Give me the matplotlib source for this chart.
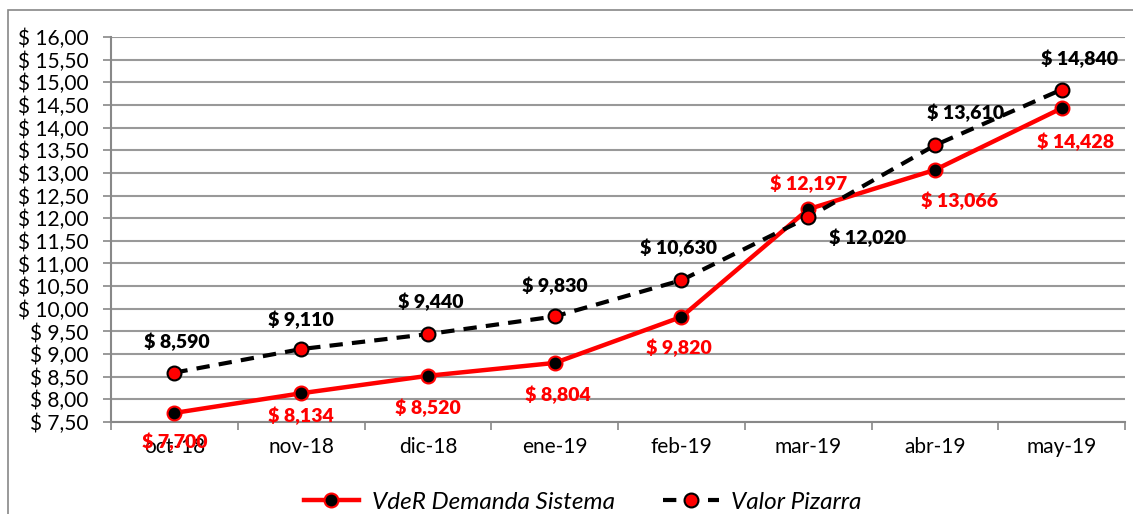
import matplotlib.pyplot as plt
from matplotlib.patches import Rectangle

plt.rcParams['font.family'] = ['Lato', 'DejaVu Sans']

months = ['oct-18', 'nov-18', 'dic-18', 'ene-19', 'feb-19', 'mar-19', 'abr-19', 'may-19']
vder = [7.700, 8.134, 8.520, 8.804, 9.820, 12.197, 13.066, 14.428]
pizarra = [8.590, 9.110, 9.440, 9.830, 10.630, 12.020, 13.610, 14.840]
vder_labels = ['$ 7,700', '$ 8,134', '$ 8,520', '$ 8,804', '$ 9,820', '$ 12,197', '$ 13,066', '$ 14,428']
pizarra_labels = ['$ 8,590', '$ 9,110', '$ 9,440', '$ 9,830', '$ 10,630', '$ 12,020', '$ 13,610', '$ 14,840']
yticks = [7.5 + 0.5 * i for i in range(18)]

# label offsets in points
vder_off = [(0, -21), (0, -16), (0, -23), (2, -23), (-2, -22), (0, 18), (18, -22), (10, -24)]
piz_off = [(2, 22), (0, 21), (2, 23), (0, 22), (-2, 23), (43, -15), (22, 23), (13, 22)]

fig = plt.figure(figsize=(11.33, 5.14), dpi=100)
ax = fig.add_axes([0.098, 0.179, 0.895, 0.749])
fig.patches.append(Rectangle((0.007, -0.01), 1.1, 0.99, transform=fig.transFigure,
                             fill=False, edgecolor='#888888', linewidth=1.2))

x = list(range(len(months)))
ax.plot(x, vder, color='red', lw=3.2, marker='o', ms=10, mfc='black', mec='red', mew=1.5,
        label='VdeR Demanda Sistema', zorder=3)
ax.plot(x, pizarra, color='black', lw=3, ls=(0, (3.2, 2.2)), marker='o', ms=10, mfc='red',
        mec='black', mew=1.5, label='Valor Pizarra', zorder=4)

for i in x:
    ax.annotate(vder_labels[i], (i, vder[i]), xytext=vder_off[i], textcoords='offset points',
                ha='center', va='center', color='red', fontsize=14, fontweight='heavy')
    ax.annotate(pizarra_labels[i], (i, pizarra[i]), xytext=piz_off[i], textcoords='offset points',
                ha='center', va='center', color='black', fontsize=14, fontweight='heavy')

ax.set_xlim(-0.5, len(months) - 0.5)
ax.set_ylim(7.5, 16.0)
ax.set_yticks(yticks)
ax.set_yticklabels(['$ ' + ('%.2f' % v).replace('.', ',') for v in yticks], fontsize=15)
ax.set_xticks(x)
ax.set_xticklabels(months, fontsize=15)
ax.set_xticks([i - 0.5 for i in range(len(months) + 1)], minor=True)
ax.tick_params(axis='x', which='major', length=0, pad=11)
ax.tick_params(axis='x', which='minor', length=6, color='#888888', width=1.2)
ax.tick_params(axis='y', length=6, color='#888888', width=1.2, pad=10)
ax.grid(axis='y', color='#999999', lw=1.5)
ax.set_axisbelow(True)
for s in ['top', 'right']:
    ax.spines[s].set_visible(False)
for s in ['left', 'bottom']:
    ax.spines[s].set_color('#888888')
    ax.spines[s].set_linewidth(1.5)

ax.legend(loc='upper center', bbox_to_anchor=(0.465, -0.125), ncol=2, frameon=False,
          prop={'style': 'italic', 'size': 17.5}, handlelength=2.3, handletextpad=0.5,
          columnspacing=2.0)

fig.savefig('out.png', dpi=100)
